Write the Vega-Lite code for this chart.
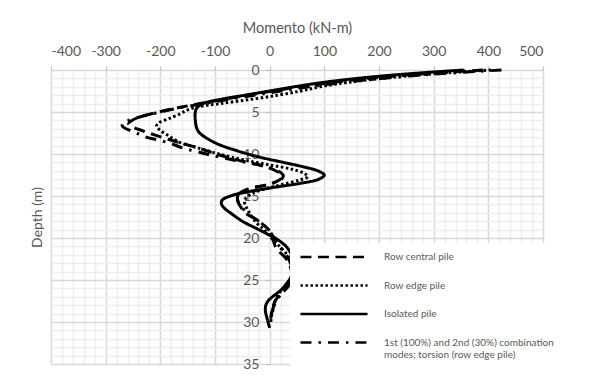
{
  "$schema": "https://vega.github.io/schema/vega-lite/v6.json",
  "width": 492,
  "height": 294,
  "autosize": {"type": "none"},
  "padding": {"left": 51, "top": 70, "right": 47, "bottom": 15},
  "config": {"view": {"stroke": null}, "font": "Lato"},
  "datasets": {
    "pts": [
      {"s": "central", "d": 0, "m": 390}, {"s": "central", "d": 0.5, "m": 270}, {"s": "central", "d": 1, "m": 180}, {"s": "central", "d": 1.5, "m": 112}, {"s": "central", "d": 2, "m": 55}, {"s": "central", "d": 2.5, "m": 5}, {"s": "central", "d": 3, "m": -40}, {"s": "central", "d": 3.5, "m": -85}, {"s": "central", "d": 4, "m": -128}, {"s": "central", "d": 4.5, "m": -168}, {"s": "central", "d": 5, "m": -203}, {"s": "central", "d": 5.5, "m": -232}, {"s": "central", "d": 6, "m": -252}, {"s": "central", "d": 6.4, "m": -258}, {"s": "central", "d": 6.8, "m": -250}, {"s": "central", "d": 7.2, "m": -234}, {"s": "central", "d": 7.7, "m": -212}, {"s": "central", "d": 8.2, "m": -188}, {"s": "central", "d": 8.7, "m": -162}, {"s": "central", "d": 9.3, "m": -130}, {"s": "central", "d": 10, "m": -98}, {"s": "central", "d": 10.7, "m": -60}, {"s": "central", "d": 11.3, "m": -20}, {"s": "central", "d": 11.9, "m": 8}, {"s": "central", "d": 12.4, "m": 20}, {"s": "central", "d": 12.9, "m": 21}, {"s": "central", "d": 13.3, "m": 12}, {"s": "central", "d": 13.7, "m": -8}, {"s": "central", "d": 14.3, "m": -45}, {"s": "central", "d": 15, "m": -60}, {"s": "central", "d": 15.7, "m": -58}, {"s": "central", "d": 16.4, "m": -52}, {"s": "central", "d": 17, "m": -45}, {"s": "central", "d": 18, "m": -20}, {"s": "central", "d": 19, "m": -2}, {"s": "central", "d": 20, "m": 5}, {"s": "central", "d": 21.2, "m": 12}, {"s": "central", "d": 22.3, "m": 28}, {"s": "central", "d": 23, "m": 35}, {"s": "central", "d": 24, "m": 40}, {"s": "central", "d": 25, "m": 40}, {"s": "central", "d": 25.6, "m": 36}, {"s": "central", "d": 26.2, "m": 28}, {"s": "central", "d": 26.8, "m": 18}, {"s": "central", "d": 27.5, "m": 10}, {"s": "central", "d": 28.2, "m": 6}, {"s": "central", "d": 29, "m": 3}, {"s": "central", "d": 29.6, "m": 2},

      {"s": "edge", "d": 0, "m": 405}, {"s": "edge", "d": 0.5, "m": 290}, {"s": "edge", "d": 1, "m": 205}, {"s": "edge", "d": 1.5, "m": 140}, {"s": "edge", "d": 2, "m": 92}, {"s": "edge", "d": 2.5, "m": 57}, {"s": "edge", "d": 3, "m": 15}, {"s": "edge", "d": 3.5, "m": -35}, {"s": "edge", "d": 4, "m": -90}, {"s": "edge", "d": 4.4, "m": -133}, {"s": "edge", "d": 4.8, "m": -152}, {"s": "edge", "d": 5.2, "m": -163}, {"s": "edge", "d": 5.8, "m": -185}, {"s": "edge", "d": 6.3, "m": -203}, {"s": "edge", "d": 6.7, "m": -207}, {"s": "edge", "d": 7.2, "m": -200}, {"s": "edge", "d": 7.7, "m": -188}, {"s": "edge", "d": 8.2, "m": -176}, {"s": "edge", "d": 8.7, "m": -162}, {"s": "edge", "d": 9.2, "m": -135}, {"s": "edge", "d": 9.8, "m": -104}, {"s": "edge", "d": 10.3, "m": -75}, {"s": "edge", "d": 10.8, "m": -40}, {"s": "edge", "d": 11.3, "m": 0}, {"s": "edge", "d": 11.8, "m": 40}, {"s": "edge", "d": 12.3, "m": 63}, {"s": "edge", "d": 12.7, "m": 70}, {"s": "edge", "d": 13.1, "m": 55}, {"s": "edge", "d": 13.6, "m": 25}, {"s": "edge", "d": 14.1, "m": -5}, {"s": "edge", "d": 14.7, "m": -32}, {"s": "edge", "d": 15.5, "m": -46}, {"s": "edge", "d": 16.3, "m": -43}, {"s": "edge", "d": 17, "m": -37}, {"s": "edge", "d": 18.2, "m": -24}, {"s": "edge", "d": 19, "m": -10}, {"s": "edge", "d": 20, "m": 3}, {"s": "edge", "d": 21, "m": 18}, {"s": "edge", "d": 22, "m": 32}, {"s": "edge", "d": 23, "m": 40}, {"s": "edge", "d": 24, "m": 42}, {"s": "edge", "d": 25, "m": 38}, {"s": "edge", "d": 25.6, "m": 30}, {"s": "edge", "d": 26.5, "m": 18}, {"s": "edge", "d": 27.5, "m": 10}, {"s": "edge", "d": 28.6, "m": 6}, {"s": "edge", "d": 29.4, "m": 3}, {"s": "edge", "d": 30, "m": 2},

      {"s": "isolated", "d": 0, "m": 355}, {"s": "isolated", "d": 0.5, "m": 245}, {"s": "isolated", "d": 1, "m": 160}, {"s": "isolated", "d": 1.5, "m": 95}, {"s": "isolated", "d": 2, "m": 45}, {"s": "isolated", "d": 2.5, "m": 0}, {"s": "isolated", "d": 3, "m": -45}, {"s": "isolated", "d": 3.5, "m": -90}, {"s": "isolated", "d": 4, "m": -122}, {"s": "isolated", "d": 4.5, "m": -133}, {"s": "isolated", "d": 5, "m": -136}, {"s": "isolated", "d": 6, "m": -136}, {"s": "isolated", "d": 7, "m": -133}, {"s": "isolated", "d": 7.5, "m": -128}, {"s": "isolated", "d": 8, "m": -118}, {"s": "isolated", "d": 8.5, "m": -105}, {"s": "isolated", "d": 9, "m": -88}, {"s": "isolated", "d": 9.5, "m": -65}, {"s": "isolated", "d": 10, "m": -40}, {"s": "isolated", "d": 10.5, "m": -10}, {"s": "isolated", "d": 11, "m": 25}, {"s": "isolated", "d": 11.5, "m": 60}, {"s": "isolated", "d": 12, "m": 88}, {"s": "isolated", "d": 12.5, "m": 100}, {"s": "isolated", "d": 13, "m": 90}, {"s": "isolated", "d": 13.5, "m": 55}, {"s": "isolated", "d": 14, "m": 5}, {"s": "isolated", "d": 14.5, "m": -40}, {"s": "isolated", "d": 15, "m": -72}, {"s": "isolated", "d": 15.5, "m": -87}, {"s": "isolated", "d": 16, "m": -88}, {"s": "isolated", "d": 16.5, "m": -82}, {"s": "isolated", "d": 17, "m": -72}, {"s": "isolated", "d": 18, "m": -50}, {"s": "isolated", "d": 19, "m": -20}, {"s": "isolated", "d": 19.5, "m": -5}, {"s": "isolated", "d": 20, "m": 10}, {"s": "isolated", "d": 21, "m": 30}, {"s": "isolated", "d": 22, "m": 40}, {"s": "isolated", "d": 23, "m": 44}, {"s": "isolated", "d": 24, "m": 41}, {"s": "isolated", "d": 24.6, "m": 39}, {"s": "isolated", "d": 25, "m": 36}, {"s": "isolated", "d": 25.5, "m": 30}, {"s": "isolated", "d": 26, "m": 24}, {"s": "isolated", "d": 26.5, "m": 15}, {"s": "isolated", "d": 27, "m": 5}, {"s": "isolated", "d": 27.5, "m": -3}, {"s": "isolated", "d": 28, "m": -7}, {"s": "isolated", "d": 28.5, "m": -8}, {"s": "isolated", "d": 29, "m": -7}, {"s": "isolated", "d": 29.5, "m": -5}, {"s": "isolated", "d": 30, "m": -3}, {"s": "isolated", "d": 30.7, "m": 0},

      {"s": "combo", "d": 0, "m": 424}, {"s": "combo", "d": 0.5, "m": 300}, {"s": "combo", "d": 1, "m": 205}, {"s": "combo", "d": 1.5, "m": 132}, {"s": "combo", "d": 2, "m": 72}, {"s": "combo", "d": 2.5, "m": 20}, {"s": "combo", "d": 3, "m": -28}, {"s": "combo", "d": 3.5, "m": -75}, {"s": "combo", "d": 4, "m": -120}, {"s": "combo", "d": 4.5, "m": -165}, {"s": "combo", "d": 5, "m": -200}, {"s": "combo", "d": 5.5, "m": -233}, {"s": "combo", "d": 6, "m": -258}, {"s": "combo", "d": 6.4, "m": -270}, {"s": "combo", "d": 6.8, "m": -268}, {"s": "combo", "d": 7.2, "m": -255}, {"s": "combo", "d": 7.6, "m": -240}, {"s": "combo", "d": 8, "m": -226}, {"s": "combo", "d": 8.3, "m": -206}, {"s": "combo", "d": 8.7, "m": -183}, {"s": "combo", "d": 9.3, "m": -158}, {"s": "combo", "d": 9.8, "m": -128}, {"s": "combo", "d": 10.1, "m": -110}, {"s": "combo", "d": 10.6, "m": -75}, {"s": "combo", "d": 11.1, "m": -35}, {"s": "combo", "d": 11.6, "m": 0}, {"s": "combo", "d": 12.1, "m": 18}, {"s": "combo", "d": 12.6, "m": 25}, {"s": "combo", "d": 13.1, "m": 20}, {"s": "combo", "d": 13.6, "m": 0}, {"s": "combo", "d": 14.2, "m": -40}, {"s": "combo", "d": 14.9, "m": -58}, {"s": "combo", "d": 15.6, "m": -58}, {"s": "combo", "d": 16.4, "m": -50}, {"s": "combo", "d": 17.2, "m": -38}, {"s": "combo", "d": 18, "m": -20}, {"s": "combo", "d": 19, "m": -2}, {"s": "combo", "d": 20, "m": 8}, {"s": "combo", "d": 21, "m": 18}, {"s": "combo", "d": 22, "m": 30}, {"s": "combo", "d": 23, "m": 38}, {"s": "combo", "d": 24, "m": 42}, {"s": "combo", "d": 25, "m": 40}, {"s": "combo", "d": 25.8, "m": 33}, {"s": "combo", "d": 26.6, "m": 22}, {"s": "combo", "d": 27.5, "m": 12}, {"s": "combo", "d": 28.4, "m": 6}, {"s": "combo", "d": 29.2, "m": 3}, {"s": "combo", "d": 30, "m": 2}
    ]
  },
  "data": {"name": "pts"},
  "mark": {"type": "line", "interpolate": "catmull-rom", "strokeWidth": 3, "color": "black"},
  "encoding": {
    "x": {
      "field": "m", "type": "quantitative",
      "scale": {"domain": [-400, 500], "nice": false, "zero": false},
      "axis": {
        "orient": "top",
        "title": "Momento (kN-m)",
        "titleFontSize": 14.5, "titleFontWeight": "normal", "titleColor": "#595959", "titlePadding": 9,
        "values": [-400,-380,-360,-340,-320,-300,-280,-260,-240,-220,-200,-180,-160,-140,-120,-100,-80,-60,-40,-20,0,20,40,60,80,100,120,140,160,180,200,220,240,260,280,300,320,340,360,380,400,420,440,460,480,500],
        "labelExpr": "datum.value % 100 === 0 ? toString(datum.value) : ''",
        "labelFontSize": 14, "labelColor": "#595959", "labelPadding": 8, "labelOverlap": false,
        "domain": false,
        "tickSize": 4,
        "tickColor": "#bfbfbf",
        "tickOpacity": {"condition": {"test": "datum.value % 100 === 0", "value": 1}, "value": 0},
        "grid": true,
        "gridColor": {"condition": {"test": "datum.value % 100 === 0", "value": "#d9d9d9"}, "value": "#eeeeee"},
        "gridWidth": 1.6
      }
    },
    "y": {
      "field": "d", "type": "quantitative",
      "scale": {"domain": [0, 35], "reverse": true, "nice": false, "zero": false},
      "axis": {
        "orient": "left",
        "offset": -219,
        "title": "Depth (m)",
        "titleFontSize": 14, "titleFontWeight": "normal", "titleColor": "#595959",
        "titleX": -233, "titleY": 147, "titleAngle": -90, "titleAlign": "center", "titleBaseline": "middle",
        "values": [0,1,2,3,4,5,6,7,8,9,10,11,12,13,14,15,16,17,18,19,20,21,22,23,24,25,26,27,28,29,30,31,32,33,34,35],
        "labelExpr": "datum.value % 5 === 0 ? toString(datum.value) : ''",
        "labelFontSize": 14, "labelColor": "#595959", "labelPadding": 6, "labelOverlap": false,
        "domain": false,
        "tickSize": 5,
        "tickColor": "#bfbfbf",
        "tickOpacity": {"condition": {"test": "datum.value % 5 === 0", "value": 1}, "value": 0},
        "grid": true,
        "gridColor": {"condition": {"test": "datum.value % 5 === 0", "value": "#d9d9d9"}, "value": "#eeeeee"},
        "gridWidth": 1.6
      }
    },
    "strokeDash": {
      "field": "s", "type": "nominal",
      "scale": {"domain": ["central", "edge", "isolated", "combo"], "range": [[11, 6.5], [2.5, 2.5], [1, 0], [11, 7, 2.5, 7]]},
      "legend": {
        "orient": "none", "legendX": 239, "legendY": 173,
        "title": null,
        "symbolType": "stroke", "symbolSize": 4500, "symbolStrokeWidth": 2.5, "symbolStrokeColor": "black",
        "clipHeight": 10,
        "labelFontSize": 10, "labelColor": "#595959", "labelOffset": 15, "labelLimit": 0, "labelBaseline": "middle",
        "labelExpr": "datum.value == 'central' ? 'Row central pile' : datum.value == 'edge' ? 'Row edge pile' : datum.value == 'isolated' ? 'Isolated pile' : ['1st (100%) and 2nd (30%) combination', 'modes; torsion (row edge pile)']",
        "fillColor": "white",
        "padding": 9,
        "rowPadding": 18.5
      }
    },
    "order": {"field": "d", "type": "quantitative"}
  }
}
